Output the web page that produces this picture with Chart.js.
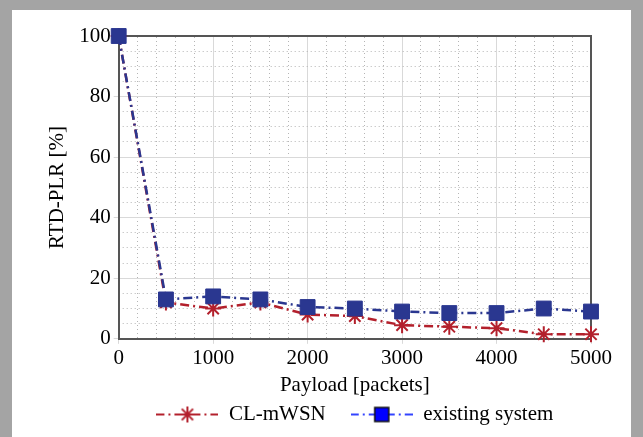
<!DOCTYPE html>
<html>
<head>
<meta charset="utf-8">
<script src="https://cdn.jsdelivr.net/npm/chart.js@4/dist/chart.umd.min.js"></script>
<style>
  html, body { margin: 0; padding: 0; background: #a4a4a4; }
  #wrap { position: absolute; left: 12px; top: 10px; width: 619px; height: 427px; background: #fff; }
</style>
</head>
<body>
<div id="wrap"><canvas id="chart"></canvas></div>
<script>
const payload = [0, 500, 1000, 1500, 2000, 2500, 3000, 3500, 4000, 4500, 5000];
const clMwsn = [100, 12, 10, 12, 8, 7.5, 4.5, 4, 3.5, 1.5, 1.5];
const existing = [100, 13, 14, 13, 10.5, 10, 9, 8.5, 8.5, 10, 9];
const xTicks = [0, 1000, 2000, 3000, 4000, 5000];
const yTicks = [0, 20, 40, 60, 80, 100];

const red = '#b3202c';
const navy = '#2a3790';
const font = { family: 'Liberation Serif', size: 21 };

// legend sample: dash-dot line with the marker in the middle
function legendSample(lineColor, kind) {
    const c = document.createElement('canvas');
    c.width = 62; c.height = 20;
    const g = c.getContext('2d');
    g.strokeStyle = lineColor;
    g.lineWidth = 2;
    g.setLineDash([8, 4, 2, 4]);
    g.beginPath(); g.moveTo(0, 10); g.lineTo(62, 10); g.stroke();
    g.setLineDash([]);
    if (kind === 'star') {
        g.strokeStyle = red; g.lineWidth = 2;
        g.beginPath();
        for (let a = 0; a < 4; a++) {
            const t = a * Math.PI / 4;
            g.moveTo(31 - 8 * Math.cos(t), 10 - 8 * Math.sin(t));
            g.lineTo(31 + 8 * Math.cos(t), 10 + 8 * Math.sin(t));
        }
        g.stroke();
    } else {
        g.fillStyle = '#0000ff'; g.strokeStyle = '#111'; g.lineWidth = 1.5;
        g.fillRect(24, 3, 14, 14); g.strokeRect(24, 3, 14, 14);
    }
    return c;
}

const toPts = arr => arr.map((v, i) => ({ x: payload[i], y: v }));

new Chart(document.getElementById('chart'), {
    type: 'line',
    data: {
        datasets: [{
            label: 'CL-mWSN',
            data: toPts(clMwsn),
            borderColor: red,
            borderWidth: 2.5,
            borderDash: [9, 4, 2, 4],
            pointStyle: 'star',
            pointRadius: 8,
            pointBorderWidth: 2,
            pointBorderColor: red,
            pointBackgroundColor: red,
            clip: false,
            order: 1
        }, {
            label: 'existing system',
            data: toPts(existing),
            borderColor: navy,
            borderWidth: 2.5,
            borderDash: [9, 4, 2, 4],
            pointStyle: 'rect',
            pointRadius: 10.5,
            pointBorderWidth: 1,
            pointBorderColor: navy,
            pointBackgroundColor: navy,
            clip: false,
            order: 0
        }]
    },
    options: {
        responsive: true,
        maintainAspectRatio: false,
        animation: false,
        layout: { padding: { left: 33, right: 40, top: 26, bottom: 2 } },
        plugins: {
            tooltip: { enabled: false },
            legend: {
                position: 'bottom',
                fullSize: false,
                labels: {
                    usePointStyle: true,
                    pointStyleWidth: 62,
                    padding: 4,
                    color: '#000',
                    font: font,
                    generateLabels: chart => chart.data.datasets.map((ds, i) => ({
                        text: i === 0 ? ds.label + '    ' : ds.label,
                        datasetIndex: i,
                        pointStyle: i === 0 ? legendSample(red, 'star') : legendSample('#3344ff', 'rect'),
                        fontColor: '#000',
                        lineWidth: 0
                    }))
                }
            }
        },
        scales: {
            x: {
                type: 'linear', position: 'bottom', min: 0, max: 5000,
                afterBuildTicks: s => { s.ticks = xTicks.map(v => ({ value: v })); },
                grid: { color: '#d9d9d9', lineWidth: 1, tickLength: 5 },
                border: { color: '#555', width: 2 },
                ticks: { color: '#000', font: { family: 'Liberation Serif', size: 21, lineHeight: 1.0 }, padding: 4, maxRotation: 0, callback: v => String(v) },
                title: { display: true, text: 'Payload [packets]', color: '#000', font: font, padding: { top: 0, bottom: 2 } }
            },
            xMinor: {
                type: 'linear', position: 'top', min: 0, max: 5000,
                ticks: { display: false, stepSize: 200 },
                grid: {
                    drawTicks: false,
                    color: c => (c.tick && c.tick.value % 1000 === 0) ? 'transparent' : '#b5b5b5',
                    lineWidth: 1
                },
                border: { display: true, color: '#555', width: 2, dash: [1, 3] }
            },
            y: {
                type: 'linear', position: 'left', min: 0, max: 100,
                afterBuildTicks: s => { s.ticks = yTicks.map(v => ({ value: v })); },
                grid: { color: '#d9d9d9', lineWidth: 1, tickLength: 5 },
                border: { color: '#555', width: 2 },
                ticks: { color: '#000', font: font, padding: 3 },
                title: { display: true, text: 'RTD-PLR [%]', color: '#000', font: font, padding: { top: 0, bottom: 6 } }
            },
            yMinor: {
                type: 'linear', position: 'right', min: 0, max: 100,
                ticks: { display: false, stepSize: 5 },
                grid: {
                    drawTicks: false,
                    color: c => (c.tick && c.tick.value % 20 === 0) ? 'transparent' : '#b5b5b5',
                    lineWidth: 1
                },
                border: { display: true, color: '#555', width: 2, dash: [1, 3] }
            }
        }
    }
});
</script>
</body>
</html>
